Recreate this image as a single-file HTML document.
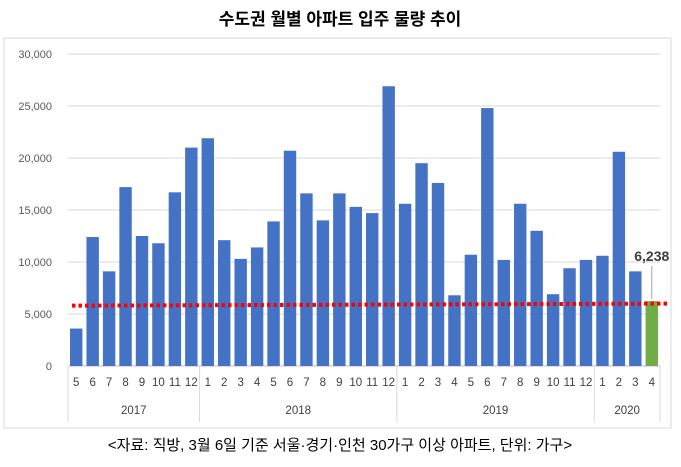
<!DOCTYPE html>
<html><head><meta charset="utf-8"><style>
body{margin:0;background:#fff;font-family:"Liberation Sans","Noto Sans CJK KR",sans-serif;}
#wrap{position:relative;width:681px;height:467px;overflow:hidden;}
</style></head><body>
<div id="wrap">
<svg id="chart" width="681" height="467" font-family="Liberation Sans, Noto Sans CJK KR, sans-serif">
<text x="340" y="25" text-anchor="middle" font-size="17" font-weight="bold" fill="#000">수도권 월별 아파트 입주 물량 추이</text>
<rect x="4" y="38" width="667" height="390" fill="none" stroke="#d9d9d9"/>
<g id="grid"></g><g id="bars"></g><g id="axis"></g>
<text x="340" y="450" text-anchor="middle" font-size="15" fill="#000">&lt;자료: 직방, 3월 6일 기준 서울·경기·인천 30가구 이상 아파트, 단위: 가구&gt;</text>
</svg></div>
<script>
const months=["5","6","7","8","9","10","11","12","1","2","3","4","5","6","7","8","9","10","11","12","1","2","3","4","5","6","7","8","9","10","11","12","1","2","3","4"];
const values=[3600,12400,9100,17200,12500,11800,16700,21000,21900,12100,10300,11400,13900,20700,16600,14000,16600,15300,14700,26900,15600,19500,17600,6800,10700,24800,10200,15600,13000,6900,9400,10200,10600,20600,9100,6238];
const years=["2017","2018","2019","2020"];
const yearCounts=[8,12,12,4];
const yTicks=[0,5000,10000,15000,20000,25000,30000];
const trendStart=5800, trendEnd=6000;
const x0=68,x1=660,y0=366,yTop=54,maxV=30000;
const ns="http://www.w3.org/2000/svg";
const slot=(x1-x0)/values.length;
const ys=v=>y0-(v/maxV)*(y0-yTop);
const xs=i=>x0+slot*(i+0.5);
function mk(t,a,p){const e=document.createElementNS(ns,t);for(const k in a)e.setAttribute(k,a[k]);p.appendChild(e);return e;}
const g=document.getElementById('grid'),b=document.getElementById('bars'),ax=document.getElementById('axis');
yTicks.forEach(v=>{
 const l=mk('line',{x1:x0,x2:x1,y1:ys(v),y2:ys(v),stroke:v?'#d9d9d9':'#bfbfbf'},g);
 
 
 const t=mk('text',{x:52,y:ys(v)+4,'text-anchor':'end','font-size':11,fill:'#595959'},ax);
 t.textContent=v.toLocaleString('en-US');
 
 
});
values.forEach((v,i)=>{
 const last=i===values.length-1;
 const r=mk('rect',{x:xs(i)-6.2,y:ys(v),width:12.4,height:y0-ys(v),fill:last?'#70ad47':'#4472c4'},b);
 
 
 const t=mk('text',{x:xs(i),y:386,'text-anchor':'middle','font-size':11.5,fill:'#404040'},ax);
 t.textContent=months[i];
 
 
});
let c=0;
const d0=mk('line',{x1:x0,x2:x0,y1:y0,y2:422,stroke:'#d9d9d9'},ax);


years.forEach((y,k)=>{
 const s=c;c+=yearCounts[k];
 const xe=x0+slot*c;
 const d=mk('line',{x1:xe,x2:xe,y1:y0,y2:422,stroke:'#d9d9d9'},ax);
 
 
 const t=mk('text',{x:(x0+slot*s+xe)/2,y:414,'text-anchor':'middle','font-size':11.5,fill:'#404040'},ax);
 t.textContent=y;
 
 
});
const tl=mk('line',{x1:x0+4,x2:x1+8,y1:ys(trendStart),y2:ys(trendEnd),stroke:'#ff0000','stroke-width':4,'stroke-dasharray':'3.5 3'},b);


const li=values.length-1;
const ll=mk('line',{x1:xs(li),x2:xs(li),y1:ys(values[li])-2,y2:266,stroke:'#a6a6a6'},b);


const lt=mk('text',{x:xs(li),y:261,'text-anchor':'middle','font-size':14,'font-weight':'bold',fill:'#404040'},b);
lt.textContent=values[li].toLocaleString('en-US');


</script></body></html>
